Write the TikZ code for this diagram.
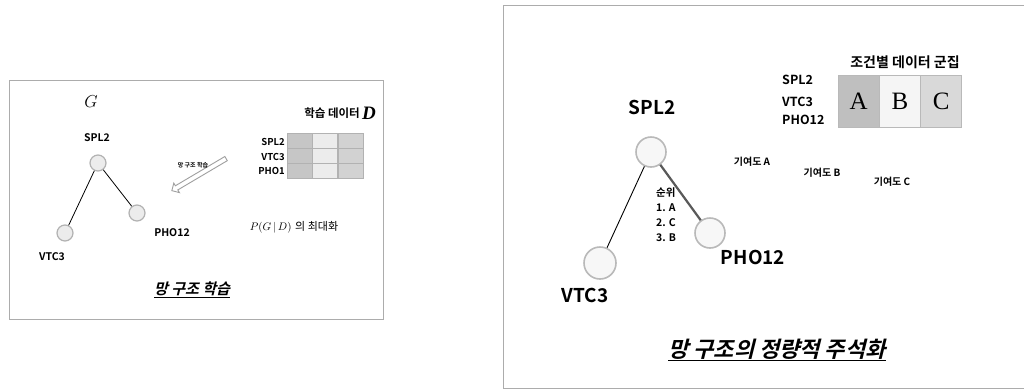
\documentclass[tikz,border=0pt]{standalone}
\usepackage{fontspec}
\usetikzlibrary{shapes.arrows}
\newfontfamily\kr{Noto Sans CJK KR}[BoldFont={* Bold}]
\newfontfamily\krit{Noto Sans CJK KR}[BoldFont={* Bold},FakeSlant=0.25]
\newfontfamily\serifx{Liberation Serif}
\newcommand{\fs}[1]{\fontsize{#1}{#1}\selectfont}
\begin{document}
\begin{tikzpicture}[x=1pt,y=-1pt,
  panel/.style={draw=gray!65,line width=0.9pt},
  lbl/.style={font=\kr\bfseries\fs{10.5},inner sep=0pt},
  gnode/.style={circle,draw=gray!60,fill=gray!15,line width=1.2pt,minimum size=16pt,inner sep=0pt},
  bignode/.style={circle,draw=gray!55,fill=gray!6,line width=1.6pt,minimum size=30pt,inner sep=0pt},
  edge/.style={black,line width=0.8pt},
  cell/.style={draw=gray!60,line width=0.6pt,minimum width=25pt,minimum height=15pt,inner sep=0pt},
  bcell/.style={draw=gray!55,line width=0.8pt,minimum width=41.3pt,minimum height=52pt,inner sep=0pt,font=\serifx\fs{25}},
  small/.style={font=\kr\bfseries\fs{10},inner sep=0pt}]
\useasboundingbox[fill=white] (0,0) rectangle (1024,389);
% ---------------- left panel ----------------
\draw[panel] (9,80) rectangle (383,319);
\node[font=\serifx\itshape\fs{17}] (G) at (91,102) {$G$};
\node[font=\kr\bfseries\fs{11.5},anchor=east,inner sep=0pt] (Dt) at (360,113) {학습 데이터};
\node[font=\serifx\bfseries\itshape\fs{19},anchor=west,inner sep=0pt] (D) at (362,113) {D};
\node[lbl] (l1) at (97,138) {SPL2};
\node[gnode] (a1) at (98,163) {};
\node[gnode] (a2) at (65,233) {};
\node[gnode] (a3) at (137,213) {};
\node[lbl] (l2) at (52,257) {VTC3};
\node[lbl] (l3) at (172,233) {PHO12};
\draw[edge] (a1) -- (a2);
\draw[edge] (a1) -- (a3);
% data table
\foreach \c/\f in {0/gray!45,1/gray!15,2/gray!35}{
  \foreach \r in {0,1,2}{
    \node[cell,fill=\f] (t\c\r) at (299.7+25.3*\c,140.5+15*\r) {};
  }
}
\node[lbl,font=\kr\bfseries\fs{9.5},anchor=east] (r1) at (285,142) {SPL2};
\node[lbl,font=\kr\bfseries\fs{9.5},anchor=east] (r2) at (285,157) {VTC3};
\node[lbl,font=\kr\bfseries\fs{9.5},anchor=east] (r3) at (285,171) {PHO1};
% learning arrow
\node[single arrow,draw=gray!75,fill=white,line width=0.9pt,minimum height=63pt,minimum width=11pt,
      single arrow head extend=2.5pt,single arrow head indent=0pt,inner sep=1.5pt,shape border rotate=0,rotate=210.6] (arr) at (200,174) {};
\node[font=\kr\bfseries\fs{6},inner sep=0pt] (arrl) at (193,165) {망 구조 학습};
\node[font=\fs{11},inner sep=0pt] (pgd) at (294,227) {$P(G\,|\,D)$ {\kr 의 최대화}};
\node[font=\krit\bfseries\fs{15},inner sep=0pt] (t1) at (192,290) {\underline{망 구조 학습}};
% ---------------- right panel ----------------
\draw[panel] (1030,5) -- (503,5) -- (503,388) -- (1030,388);
\node[font=\kr\bfseries\fs{14},inner sep=0pt] (ct) at (905,62) {조건별 데이터 군집};
\node[bcell,fill=gray!50] (cA) at (858.6,101) {A};
\node[bcell,fill=gray!8] (cB) at (899.9,101) {B};
\node[bcell,fill=gray!30] (cC) at (941.2,101) {C};
\node[small,font=\kr\bfseries\fs{12.5},anchor=west] (s1) at (782,80) {SPL2};
\node[small,font=\kr\bfseries\fs{12.5},anchor=west] (s2) at (782,102) {VTC3};
\node[small,font=\kr\bfseries\fs{12.5},anchor=west] (s3) at (782,120) {PHO12};
\node[font=\kr\bfseries\fs{19},inner sep=0pt] (L1) at (652,107) {SPL2};
\node[bignode] (b1) at (651,152) {};
\node[bignode,minimum size=32pt] (b2) at (600,263) {};
\node[bignode] (b3) at (710,233) {};
\node[font=\kr\bfseries\fs{19},inner sep=0pt] (L2) at (585,295) {VTC3};
\node[font=\kr\bfseries\fs{19},inner sep=0pt] (L3) at (753,257) {PHO12};
\draw[edge,line width=0.9pt] (b1) -- (b2);
\draw[line width=2.2pt,gray!70!black] (b1) -- (b3);
\node[font=\kr\bfseries\fontsize{10.5}{15}\selectfont,align=left,anchor=west,inner sep=0pt] (rank) at (656,214.5)
  {순위\\1. A\\2. C\\3. B};
\node[small] (cA1) at (752,162) {기여도 A};
\node[small] (cB1) at (822,173) {기여도 B};
\node[small] (cC1) at (892,182) {기여도 C};
\node[font=\krit\bfseries\fs{22},inner sep=0pt] (t2) at (777,350) {\underline{망 구조의 정량적 주석화}};
\end{tikzpicture}
\end{document}
